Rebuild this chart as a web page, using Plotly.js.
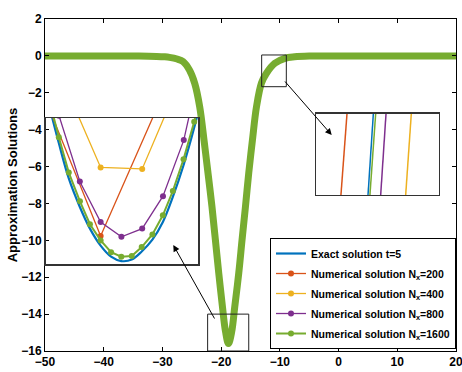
<!DOCTYPE html>
<html>
<head>
<meta charset="utf-8">
<script src="https://cdn.plot.ly/plotly-3.0.1.min.js"></script>
<style>html,body{margin:0;padding:0;background:#fff;}#chart{width:462px;height:372px;}</style>
</head>
<body>
<div id="chart"></div>
<script>
// ---- Main view: curve (all five series coincide at this scale)
const mainX = [-50, -40, -34, -31, -29.7, -28.8, -27.5, -26.5, -25.4, -24.5, -23.65, -22.92, -22.24, -21.56, -20.98, -20.41, -19.78, -19.25, -18.75, -18.2, -17.68, -17.0, -16.44, -15.86, -15.30, -14.67, -13.98, -13.13, -12.28, -10.86, -9.15, -7.5, -5, 0, 10, 20];
const mainY = [0, 0, -0.01, -0.03, -0.05, -0.08, -0.17, -0.31, -0.77, -1.49, -2.76, -4.56, -6.35, -8.18, -9.98, -11.77, -13.60, -14.95, -15.6, -14.95, -13.60, -11.77, -9.98, -8.18, -6.35, -4.56, -2.76, -1.47, -0.94, -0.40, -0.13, -0.05, -0.01, 0, 0, 0];

// ---- Zoomed view near the minimum (left inset)
const zoomExactX = [-19.070, -19.026, -18.984, -18.937, -18.895, -18.85, -18.806, -18.763, -18.719, -18.677, -18.632, -18.588, -18.546, -18.501, -18.456, -18.412];
const zoomExactY = [-15.386, -15.441, -15.489, -15.528, -15.557, -15.580, -15.595, -15.601, -15.599, -15.588, -15.572, -15.548, -15.514, -15.471, -15.420, -15.362];
const zoom200X = [-19.2, -18.85, -18.5];
const zoom200Y = [-15.288, -15.567, -15.311];
const zoom400X = [-19.025, -18.85, -18.675, -18.5];
const zoom400Y = [-15.344, -15.474, -15.476, -15.344];
const zoom800X = [-19.1125, -19.025, -18.9375, -18.85, -18.7625, -18.675, -18.5875, -18.5, -18.4125];
const zoom800Y = [-15.310, -15.404, -15.493, -15.548, -15.568, -15.557, -15.513, -15.437, -15.311];
const zoom1600X = [-19.070, -19.026, -18.984, -18.937, -18.895, -18.85, -18.806, -18.763, -18.719, -18.677, -18.632, -18.588, -18.546, -18.501, -18.456, -18.412];
const zoom1600Y = [-15.378, -15.433, -15.481, -15.520, -15.551, -15.573, -15.589, -15.595, -15.594, -15.582, -15.565, -15.539, -15.506, -15.463, -15.412, -15.354];

// ---- Zoomed view on the right flank (right inset)
const flankY = [-0.9615, -0.9535];
const flankExactX = [-12.318, -12.3042];
const flank200X = [-12.3624, -12.3467];
const flank400X = [-12.2569, -12.2423];
const flank800X = [-12.2974, -12.2836];
const flank1600X = [-12.3151, -12.3002];

const names = ['Exact solution t=5', 'Numerical solution N<sub>x</sub>=200', 'Numerical solution N<sub>x</sub>=400', 'Numerical solution N<sub>x</sub>=800', 'Numerical solution N<sub>x</sub>=1600'];
const colors = ['#0072BD', '#D95319', '#EDB120', '#7E2F8E', '#77AC30'];

const mainW = [2, 1.5, 1.5, 1.5, 7];
const traces = [];
// main traces
for (let i = 0; i < 5; i++) {
  traces.push({x: mainX, y: mainY, xaxis: 'x', yaxis: 'y', mode: 'lines', showlegend: false,
    line: {color: colors[i], width: mainW[i], shape: 'spline', smoothing: 1}, hoverinfo: 'skip'});
}
// left inset traces (also drive the legend)
const zx = [zoomExactX, zoom200X, zoom400X, zoom800X, zoom1600X];
const zy = [zoomExactY, zoom200Y, zoom400Y, zoom800Y, zoom1600Y];
const insW = [2.2, 1.3, 1.3, 1.3, 2];
for (let i = 0; i < 5; i++) {
  traces.push({x: zx[i], y: zy[i], xaxis: 'x2', yaxis: 'y2', name: names[i], legendgroup: 'g' + i,
    mode: i === 0 ? 'lines' : 'lines+markers', showlegend: true,
    line: {color: colors[i], width: insW[i], shape: i === 0 ? 'spline' : 'linear'},
    marker: {color: colors[i], size: 6, symbol: 'circle'}, cliponaxis: true});
}
// right inset traces
const fx = [flankExactX, flank200X, flank400X, flank800X, flank1600X];
for (let i = 0; i < 5; i++) {
  traces.push({x: fx[i], y: flankY, xaxis: 'x3', yaxis: 'y3', mode: 'lines', showlegend: false,
    line: {color: colors[i], width: 1.5}});
}

const tickFont = {family: 'Liberation Sans, Arial, sans-serif', size: 12, color: '#000', weight: 'bold'};
const insetAxis = {showline: true, mirror: true, linecolor: '#333', linewidth: 1.5, ticks: '', showticklabels: false, showgrid: false, zeroline: false};

const layout = {
  width: 462, height: 372,
  margin: {l: 45, r: 6, t: 19, b: 21},
  paper_bgcolor: '#fff', plot_bgcolor: 'rgba(0,0,0,0)',
  showlegend: true,
  xaxis: {domain: [0, 1], range: [-50, 20], tickvals: [-50, -40, -30, -20, -10, 0, 10, 20], ticklabeloverflow: 'allow',
    ticks: 'inside', ticklen: 4, tickcolor: '#000', showline: true, mirror: 'ticks', linecolor: '#000', linewidth: 1,
    showgrid: false, zeroline: false, tickfont: tickFont},
  yaxis: {domain: [0, 1], range: [-16, 2], tickvals: [-16, -14, -12, -10, -8, -6, -4, -2, 0, 2], ticklabeloverflow: 'allow',
    ticks: 'inside', ticklen: 4, tickcolor: '#000', showline: true, mirror: 'ticks', linecolor: '#000', linewidth: 1,
    showgrid: false, zeroline: false, tickfont: tickFont,
    title: {text: 'Approximation Solutions', font: {family: 'Liberation Sans, Arial, sans-serif', size: 13, color: '#000', weight: 'bold'}, standoff: 0}},
  xaxis2: Object.assign({}, insetAxis, {domain: [0.0024, 0.3723], range: [-19.08, -18.44], anchor: 'y2'}),
  yaxis2: Object.assign({}, insetAxis, {domain: [0.262, 0.7018], range: [-15.605, -15.407], anchor: 'x2'}),
  xaxis3: Object.assign({}, insetAxis, {domain: [0.6594, 0.9586], range: [-12.4, -12.2], anchor: 'y3'}),
  yaxis3: Object.assign({}, insetAxis, {domain: [0.4699, 0.7139], range: [-0.96, -0.955], anchor: 'x3'}),
  legend: {x: 1, xanchor: 'right', y: 0.006, yanchor: 'bottom', bgcolor: '#fff', bordercolor: '#000', borderwidth: 1,
    font: {family: 'Liberation Sans, Arial, sans-serif', size: 10.5, color: '#000', weight: 'bold'},
    tracegroupgap: 1, itemwidth: 30},
  shapes: [
    {type: 'rect', xref: 'x', yref: 'y', x0: -22.3, x1: -15.3, y0: -16, y1: -14, line: {color: '#222', width: 1}},
    {type: 'rect', xref: 'x', yref: 'y', x0: -13.1, x1: -8.9, y0: -1.67, y1: 0.05, line: {color: '#222', width: 1}}
  ],
  annotations: [
    {xref: 'paper', yref: 'paper', x: 0.3122, y: 0.3193, ax: 42, ay: 75, text: '', showarrow: true,
      arrowhead: 2, arrowsize: 1.3, arrowwidth: 1, arrowcolor: '#000'},
    {xref: 'paper', yref: 'paper', x: 0.6976, y: 0.6506, ax: -48, ay: -55, text: '', showarrow: true,
      arrowhead: 2, arrowsize: 1.3, arrowwidth: 1, arrowcolor: '#000'}
  ]
};

Plotly.newPlot('chart', traces, layout, {staticPlot: true, displayModeBar: false});
</script>
</body>
</html>
